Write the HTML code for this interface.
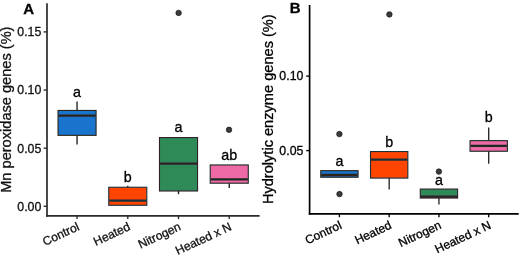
<!DOCTYPE html>
<html><head><meta charset="utf-8"><style>
html,body{margin:0;padding:0;background:#fff;width:520px;height:255px;overflow:hidden}
svg{display:block;will-change:transform;filter:blur(0.3px)}
text{font-family:"Liberation Sans",sans-serif;stroke-width:0.3px}
</style></head><body>
<svg width="520" height="255" viewBox="0 0 520 255">
<rect width="520" height="255" fill="#fff"/>
<line x1="47" y1="3.3" x2="47" y2="216.65" stroke="#2a2a2a" stroke-width="1.7"/>
<line x1="46.15" y1="215.8" x2="259.6" y2="215.8" stroke="#2a2a2a" stroke-width="1.7"/>
<line x1="43.6" y1="31.9" x2="47" y2="31.9" stroke="#2a2a2a" stroke-width="1.35"/>
<text x="41.3" y="36.2" text-anchor="end" font-size="12.35" fill="#111111" stroke="#111111">0.15</text>
<line x1="43.6" y1="90.06" x2="47" y2="90.06" stroke="#2a2a2a" stroke-width="1.35"/>
<text x="41.3" y="94.36" text-anchor="end" font-size="12.35" fill="#111111" stroke="#111111">0.10</text>
<line x1="43.6" y1="148.2" x2="47" y2="148.2" stroke="#2a2a2a" stroke-width="1.35"/>
<text x="41.3" y="152.5" text-anchor="end" font-size="12.35" fill="#111111" stroke="#111111">0.05</text>
<line x1="43.6" y1="206.3" x2="47" y2="206.3" stroke="#2a2a2a" stroke-width="1.35"/>
<text x="41.3" y="210.6" text-anchor="end" font-size="12.35" fill="#111111" stroke="#111111">0.00</text>
<line x1="77.05" y1="215.8" x2="77.05" y2="219.1" stroke="#2a2a2a" stroke-width="1.35"/>
<text x="80.25" y="229.5" text-anchor="end" font-size="12.05" fill="#111111" stroke="#111111" transform="rotate(-25 80.25 229.5)">Control</text>
<line x1="127.78" y1="215.8" x2="127.78" y2="219.1" stroke="#2a2a2a" stroke-width="1.35"/>
<text x="130.98" y="229.5" text-anchor="end" font-size="12.05" fill="#111111" stroke="#111111" transform="rotate(-25 130.98 229.5)">Heated</text>
<line x1="178.51" y1="215.8" x2="178.51" y2="219.1" stroke="#2a2a2a" stroke-width="1.35"/>
<text x="181.71" y="229.5" text-anchor="end" font-size="12.05" fill="#111111" stroke="#111111" transform="rotate(-25 181.71 229.5)">Nitrogen</text>
<line x1="229.24" y1="215.8" x2="229.24" y2="219.1" stroke="#2a2a2a" stroke-width="1.35"/>
<text x="232.44" y="229.5" text-anchor="end" font-size="12.05" fill="#111111" stroke="#111111" transform="rotate(-25 232.44 229.5)">Heated x N</text>
<line x1="77.05" y1="101.5" x2="77.05" y2="110.45" stroke="#161616" stroke-width="1.3"/>
<line x1="77.05" y1="135.35" x2="77.05" y2="144.6" stroke="#161616" stroke-width="1.3"/>
<rect x="58.03" y="110.45" width="38.05" height="24.9" fill="#1874CD" stroke="#2e2418" stroke-width="1.1"/>
<line x1="58.53" y1="115.7" x2="95.57" y2="115.7" stroke="#2e2418" stroke-width="2.3"/>
<text x="77.05" y="96.8" text-anchor="middle" font-size="14.3" fill="#000" stroke="#000">a</text>
<line x1="127.78" y1="185.7" x2="127.78" y2="187.25" stroke="#161616" stroke-width="1.3"/>
<line x1="127.78" y1="205.3" x2="127.78" y2="206" stroke="#161616" stroke-width="1.3"/>
<rect x="108.76" y="187.25" width="38.05" height="18.05" fill="#FF4500" stroke="#18303c" stroke-width="1.1"/>
<line x1="109.26" y1="200.7" x2="146.3" y2="200.7" stroke="#18303c" stroke-width="2.3"/>
<text x="127.78" y="181.6" text-anchor="middle" font-size="14.3" fill="#000" stroke="#000">b</text>
<line x1="178.51" y1="191" x2="178.51" y2="194.2" stroke="#161616" stroke-width="1.3"/>
<rect x="159.49" y="137.55" width="38.05" height="53.45" fill="#2E8B57" stroke="#30202c" stroke-width="1.1"/>
<line x1="159.99" y1="163.6" x2="197.03" y2="163.6" stroke="#30202c" stroke-width="2.3"/>
<circle cx="178.6" cy="12.9" r="2.75" fill="#3a3a3a" stroke="#151515" stroke-width="0.7"/>
<text x="178.51" y="131.9" text-anchor="middle" font-size="14.3" fill="#000" stroke="#000">a</text>
<line x1="229.24" y1="183.2" x2="229.24" y2="187.9" stroke="#161616" stroke-width="1.3"/>
<rect x="210.22" y="164.95" width="38.05" height="18.25" fill="#EE6AA7" stroke="#182a22" stroke-width="1.1"/>
<line x1="210.72" y1="179.3" x2="247.76" y2="179.3" stroke="#182a22" stroke-width="2.3"/>
<circle cx="229" cy="129.8" r="2.75" fill="#3a3a3a" stroke="#151515" stroke-width="0.7"/>
<text x="229.24" y="159.6" text-anchor="middle" font-size="14.3" fill="#000" stroke="#000">ab</text>
<text x="11.1" y="192.8" font-size="14.6" fill="#111111" stroke="#111111" transform="rotate(-90 11.1 192.8)">Mn peroxidase genes (%)</text>
<text x="23.3" y="13.8" font-size="15" font-weight="bold" fill="#000" stroke="#000">A</text>
<line x1="309.6" y1="5" x2="309.6" y2="214.75" stroke="#000000" stroke-width="1.7"/>
<line x1="308.75" y1="213.9" x2="518.7" y2="213.9" stroke="#000000" stroke-width="1.7"/>
<line x1="306.2" y1="76.1" x2="309.6" y2="76.1" stroke="#000000" stroke-width="1.35"/>
<text x="303.4" y="80.4" text-anchor="end" font-size="12.35" fill="#000000" stroke="#000000">0.10</text>
<line x1="306.2" y1="150.6" x2="309.6" y2="150.6" stroke="#000000" stroke-width="1.35"/>
<text x="303.4" y="154.9" text-anchor="end" font-size="12.35" fill="#000000" stroke="#000000">0.05</text>
<line x1="339.4" y1="213.9" x2="339.4" y2="217.2" stroke="#000000" stroke-width="1.35"/>
<text x="342.6" y="228" text-anchor="end" font-size="12.05" fill="#000000" stroke="#000000" transform="rotate(-25 342.6 228)">Control</text>
<line x1="389.17" y1="213.9" x2="389.17" y2="217.2" stroke="#000000" stroke-width="1.35"/>
<text x="392.37" y="228" text-anchor="end" font-size="12.05" fill="#000000" stroke="#000000" transform="rotate(-25 392.37 228)">Heated</text>
<line x1="438.94" y1="213.9" x2="438.94" y2="217.2" stroke="#000000" stroke-width="1.35"/>
<text x="442.14" y="228" text-anchor="end" font-size="12.05" fill="#000000" stroke="#000000" transform="rotate(-25 442.14 228)">Nitrogen</text>
<line x1="488.71" y1="213.9" x2="488.71" y2="217.2" stroke="#000000" stroke-width="1.35"/>
<text x="491.91" y="228" text-anchor="end" font-size="12.05" fill="#000000" stroke="#000000" transform="rotate(-25 491.91 228)">Heated x N</text>
<rect x="320.74" y="170.65" width="37.33" height="6.6" fill="#1874CD" stroke="#2e2418" stroke-width="1.1"/>
<line x1="321.24" y1="175" x2="357.56" y2="175" stroke="#2e2418" stroke-width="2.3"/>
<circle cx="339.4" cy="134.1" r="2.75" fill="#3a3a3a" stroke="#151515" stroke-width="0.7"/>
<circle cx="339.5" cy="194.1" r="2.75" fill="#3a3a3a" stroke="#151515" stroke-width="0.7"/>
<text x="339.4" y="165.6" text-anchor="middle" font-size="14.3" fill="#000" stroke="#000">a</text>
<line x1="389.17" y1="178.1" x2="389.17" y2="189.4" stroke="#1e1e1e" stroke-width="1.3"/>
<rect x="370.51" y="151.55" width="37.33" height="26.55" fill="#FF4500" stroke="#18303c" stroke-width="1.1"/>
<line x1="371.01" y1="159.7" x2="407.33" y2="159.7" stroke="#18303c" stroke-width="2.3"/>
<circle cx="389.4" cy="14.4" r="2.75" fill="#3a3a3a" stroke="#151515" stroke-width="0.7"/>
<text x="389.17" y="146.6" text-anchor="middle" font-size="14.3" fill="#000" stroke="#000">b</text>
<line x1="438.94" y1="198.05" x2="438.94" y2="204.5" stroke="#1e1e1e" stroke-width="1.3"/>
<rect x="420.28" y="189.05" width="37.33" height="9" fill="#2E8B57" stroke="#30202c" stroke-width="1.1"/>
<line x1="420.78" y1="196.7" x2="457.1" y2="196.7" stroke="#30202c" stroke-width="2.3"/>
<circle cx="438.9" cy="171.6" r="2.75" fill="#3a3a3a" stroke="#151515" stroke-width="0.7"/>
<text x="438.94" y="184.6" text-anchor="middle" font-size="14.3" fill="#000" stroke="#000">a</text>
<line x1="488.71" y1="127.6" x2="488.71" y2="140.65" stroke="#1e1e1e" stroke-width="1.3"/>
<line x1="488.71" y1="151.25" x2="488.71" y2="163.8" stroke="#1e1e1e" stroke-width="1.3"/>
<rect x="470.05" y="140.65" width="37.33" height="10.6" fill="#EE6AA7" stroke="#182a22" stroke-width="1.1"/>
<line x1="470.55" y1="145.8" x2="506.87" y2="145.8" stroke="#182a22" stroke-width="2.3"/>
<text x="488.71" y="122.2" text-anchor="middle" font-size="14.3" fill="#000" stroke="#000">b</text>
<text x="272.9" y="204.1" font-size="14.6" fill="#000000" stroke="#000000" transform="rotate(-90 272.9 204.1)">Hydrolytic enzyme genes (%)</text>
<text x="289.8" y="13.1" font-size="15" font-weight="bold" fill="#000" stroke="#000">B</text>
</svg>
</body></html>
